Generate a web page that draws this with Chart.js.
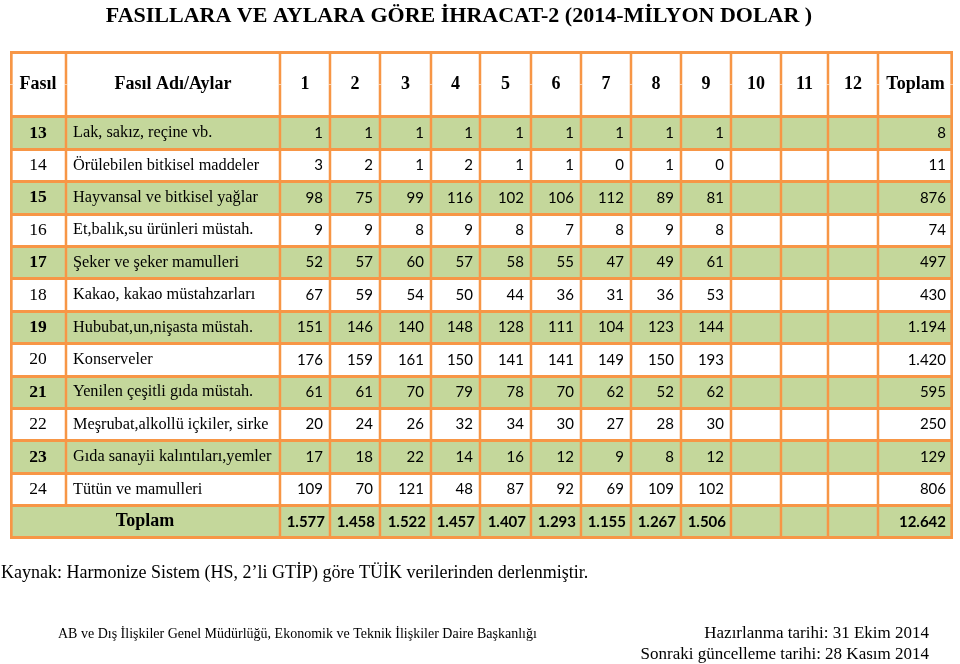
<!DOCTYPE html>
<html><head><meta charset="utf-8">
<script src="https://cdn.jsdelivr.net/npm/chart.js@4/dist/chart.umd.min.js"></script>
<style>html,body{margin:0;padding:0;background:#fff;}</style>
</head><body>
<canvas id="c" width="960" height="664"></canvas>
<script>
// ---------- DATA ----------
const chartTitle = 'FASILLARA VE AYLARA GÖRE İHRACAT-2 (2014-MİLYON DOLAR )';
const headerLabels = ['Fasıl', 'Fasıl Adı/Aylar'];
const months = ['1','2','3','4','5','6','7','8','9','10','11','12'];
const totalLabel = 'Toplam';
const fasilCodes = ['13','14','15','16','17','18','19','20','21','22','23','24'];
const fasilNames = [
  'Lak, sakız, reçine vb.',
  'Örülebilen bitkisel maddeler',
  'Hayvansal ve bitkisel yağlar',
  'Et,balık,su ürünleri müstah.',
  'Şeker ve şeker mamulleri',
  'Kakao, kakao müstahzarları',
  'Hububat,un,nişasta müstah.',
  'Konserveler',
  'Yenilen çeşitli gıda müstah.',
  'Meşrubat,alkollü içkiler, sirke',
  'Gıda sanayii kalıntıları,yemler',
  'Tütün ve mamulleri'
];
const v13 = [1, 1, 1, 1, 1, 1, 1, 1, 1];
const v14 = [3, 2, 1, 2, 1, 1, 0, 1, 0];
const v15 = [98, 75, 99, 116, 102, 106, 112, 89, 81];
const v16 = [9, 9, 8, 9, 8, 7, 8, 9, 8];
const v17 = [52, 57, 60, 57, 58, 55, 47, 49, 61];
const v18 = [67, 59, 54, 50, 44, 36, 31, 36, 53];
const v19 = [151, 146, 140, 148, 128, 111, 104, 123, 144];
const v20 = [176, 159, 161, 150, 141, 141, 149, 150, 193];
const v21 = [61, 61, 70, 79, 78, 70, 62, 52, 62];
const v22 = [20, 24, 26, 32, 34, 30, 27, 28, 30];
const v23 = [17, 18, 22, 14, 16, 12, 9, 8, 12];
const v24 = [109, 70, 121, 48, 87, 92, 69, 109, 102];
const rowTotals = [8, 11, 876, 74, 497, 430, 1194, 1420, 595, 250, 129, 806];
const monthTotals = [1577, 1458, 1522, 1457, 1407, 1293, 1155, 1267, 1506];
const grandTotal = 12642;
const sourceNote = 'Kaynak: Harmonize Sistem (HS, 2’li GTİP) göre TÜİK verilerinden derlenmiştir.';
const footerLeft = 'AB ve Dış İlişkiler Genel Müdürlüğü, Ekonomik ve Teknik İlişkiler Daire Başkanlığı';
const footerRight1 = 'Hazırlanma tarihi: 31 Ekim 2014';
const footerRight2 = 'Sonraki güncelleme tarihi: 28 Kasım 2014';

// ---------- LAYOUT / STYLE ----------
const ORANGE = '#f79646';
const GREEN = '#c4d79b';
const colWidths = [56, 214, 50, 50, 51, 49, 51, 50, 50, 50, 50, 50, 47, 50, 75];
const SERIF = '"Liberation Serif", "Times New Roman", serif';
const SANS = 'Lato, "Open Sans", sans-serif';

const bodyValues = [v13, v14, v15, v16, v17, v18, v19, v20, v21, v22, v23, v24];
const columnHeaders = headerLabels.concat(months, [totalLabel]);
const rowKeys = ['hdrA', 'hdrB'].concat(fasilCodes, ['total']);
const edges = [0];
colWidths.forEach(w => edges.push(edges[edges.length - 1] + w));
const totalW = edges[edges.length - 1];
const nCols = colWidths.length;

function fmt(n) {
  return String(n).replace(/\B(?=(\d{3})+(?!\d))/g, '.');
}
function rowColor(r) {
  if (r < 2) return '#ffffff';
  if (r === rowKeys.length - 1) return GREEN;
  return ((r - 2) % 2 === 0) ? GREEN : '#ffffff';
}

const datasets = [];
for (let c = 0; c < nCols; c++) {
  const data = rowKeys.map((k, r) => {
    if (k === 'total') {
      if (c === 0) return [edges[0], edges[2]];
      if (c === 1) return null;
    }
    return [edges[c], edges[c + 1]];
  });
  datasets.push({
    label: columnHeaders[c],
    data,
    backgroundColor: ctx => rowColor(ctx.dataIndex),
    borderColor: ORANGE,
    borderWidth: { left: c === 0 ? 3 : 1.6, right: c === nCols - 1 ? 3 : 1.6, top: 0, bottom: 0 },
    borderSkipped: false,
    grouped: false,
    barPercentage: 1,
    categoryPercentage: 1
  });
}

const textPlugin = {
  id: 'tableText',
  afterDraw(chart) {
    const { ctx } = chart;
    const x = chart.scales.x, y = chart.scales.y;
    const colL = c => x.getPixelForValue(edges[c]);
    const colR = c => x.getPixelForValue(edges[c + 1]);
    const colC = c => (colL(c) + colR(c)) / 2;
    const rowY = r => y.getPixelForValue(r);
    function txt(s, px, py, font, align) {
      ctx.font = font;
      ctx.textAlign = align || 'center';
      ctx.textBaseline = 'middle';
      ctx.fillStyle = '#000';
      ctx.fillText(s, px, py);
    }
    ctx.save();
    // title
    txt(chartTitle, 459, 16, 'bold 22px ' + SERIF, 'center');
    // header
    const hy = (rowY(0) + rowY(1)) / 2;
    for (let c = 0; c < nCols; c++) {
      txt(columnHeaders[c], colC(c), hy, 'bold 18px ' + SERIF, 'center');
    }
    // body rows
    fasilCodes.forEach((code, i) => {
      const r = i + 2;
      const yy = rowY(r);
      const bold = i % 2 === 0;
      txt(code, colC(0), yy, (bold ? 'bold ' : '') + '17.5px ' + SERIF, 'center');
      txt(fasilNames[i], colL(1) + 7, yy, '16.3px ' + SERIF, 'left');
      bodyValues[i].forEach((v, m) => {
        txt(fmt(v), colR(m + 2) - 7, yy, '15px ' + SANS, 'right');
      });
      txt(fmt(rowTotals[i]), colR(nCols - 1) - 7, yy, '15px ' + SANS, 'right');
    });
    // total row
    const ty = rowY(rowKeys.length - 1);
    txt(totalLabel, (colL(0) + colR(1)) / 2, ty, 'bold 18px ' + SERIF, 'center');
    monthTotals.forEach((v, m) => {
      txt(fmt(v), colR(m + 2) - 5, ty, 'bold 15px ' + SANS, 'right');
    });
    txt(fmt(grandTotal), colR(nCols - 1) - 7, ty, 'bold 15px ' + SANS, 'right');
    // notes
    txt(sourceNote, 1, 573, '18px ' + SERIF, 'left');
    txt(footerLeft, 58, 634, '14px ' + SERIF, 'left');
    txt(footerRight1, 929, 634, '17px ' + SERIF, 'right');
    txt(footerRight2, 929, 655, '17px ' + SERIF, 'right');
    ctx.restore();
  }
};

new Chart(document.getElementById('c'), {
  type: 'bar',
  data: { labels: rowKeys, datasets },
  options: {
    responsive: false,
    animation: false,
    indexAxis: 'y',
    layout: { padding: { left: 10, right: 7, top: 52, bottom: 126 } },
    plugins: { legend: { display: false }, tooltip: { enabled: false }, title: { display: false } },
    scales: {
      x: { type: 'linear', min: 0, max: totalW, display: false },
      y: {
        type: 'category', offset: true,
        grid: { offset: true, z: 1, drawTicks: false, lineWidth: 3, color: ctx => ctx.index === 1 ? 'rgba(0,0,0,0)' : ORANGE },
        ticks: { display: false },
        border: { display: false }
      }
    }
  },
  plugins: [textPlugin]
});
</script>
</body></html>
